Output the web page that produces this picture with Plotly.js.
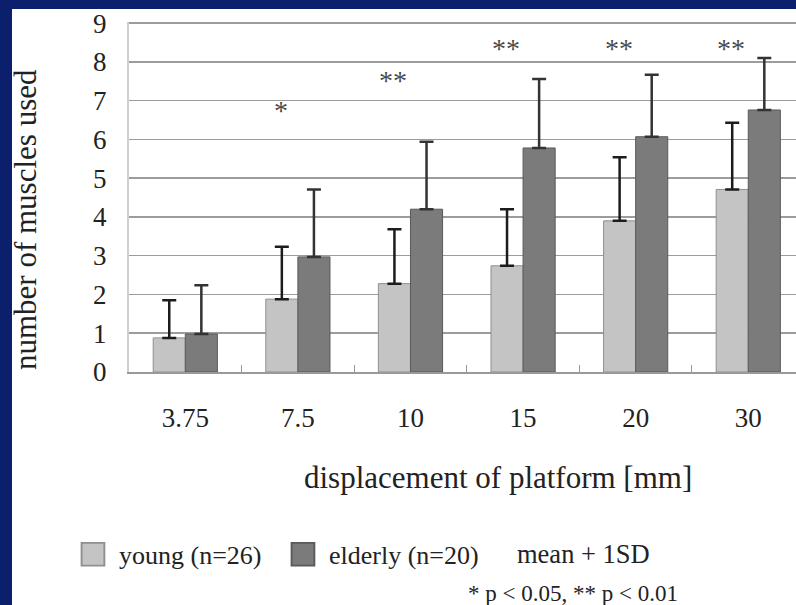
<!DOCTYPE html>
<html><head><meta charset="utf-8">
<script src="https://cdn.plot.ly/plotly-3.0.1.min.js"></script>
<style>
html,body{margin:0;padding:0;width:796px;height:605px;overflow:hidden;background:#0b1f6c;}
#panel{position:absolute;left:12px;top:9px;width:784px;height:596px;background:#fff;}
#chart{position:absolute;left:0;top:0;width:796px;height:605px;}
</style></head>
<body><div id="panel"></div><div id="chart"></div>
<script>
const categories = ['3.75', '7.5', '10', '15', '20', '30'];
const youngMean = [0.88, 1.88, 2.28, 2.74, 3.90, 4.71];
const youngSD = [0.97, 1.35, 1.40, 1.46, 1.64, 1.72];
const elderlyMean = [0.98, 2.97, 4.20, 5.78, 6.07, 6.76];
const elderlySD = [1.26, 1.74, 1.74, 1.78, 1.60, 1.34];
const sigLabels = ['', '*', '**', '**', '**', '**'];
const sigY = [null, 6.74, 7.52, 8.34, 8.34, 8.34];
const yTickVals = [0, 1, 2, 3, 4, 5, 6, 7, 8, 9];
const seriesNames = ['young (n=26)', 'elderly (n=20)'];

const SERIF = 'Liberation Serif, Times New Roman, serif';
const zeros = categories.map(() => 0);

const traces = [
  {
    type: 'bar', name: seriesNames[0], x: categories, y: youngMean,
    marker: {color: '#c4c4c4', line: {color: '#8f8f8f', width: 1}},
    error_y: {type: 'data', array: youngSD, arrayminus: zeros, symmetric: false,
              color: '#1c1c1c', thickness: 2.5, width: 7}
  },
  {
    type: 'bar', name: seriesNames[1], x: categories, y: elderlyMean,
    marker: {color: '#7b7b7b', line: {color: '#5a5a5a', width: 1}},
    error_y: {type: 'data', array: elderlySD, arrayminus: zeros, symmetric: false,
              color: '#333333', thickness: 2.5, width: 7}
  }
];

const annotations = [];
categories.forEach((c, i) => {
  if (sigLabels[i]) {
    annotations.push({x: i, y: sigY[i], xref: 'x', yref: 'y', text: sigLabels[i],
      showarrow: false, xshift: -17, font: {family: SERIF, size: 28, color: '#4a4a4a'}});
  }
});
annotations.push(
  {xref: 'paper', yref: 'paper', x: 0.553, y: -0.302, xanchor: 'center', yanchor: 'middle',
   text: 'displacement of platform [mm]', showarrow: false,
   font: {family: SERIF, size: 31, color: '#222'}},
  {xref: 'paper', yref: 'paper', x: -0.155, y: 0.436, xanchor: 'center', yanchor: 'middle',
   text: 'number of muscles used', textangle: -90, showarrow: false,
   font: {family: SERIF, size: 31, color: '#222'}},
  {xref: 'paper', yref: 'paper', x: 0.578, y: -0.521, xanchor: 'left', yanchor: 'middle',
   text: 'mean + 1SD', showarrow: false, font: {family: SERIF, size: 26.5, color: '#222'}},
  {xref: 'paper', yref: 'paper', x: 0.505, y: -0.633, xanchor: 'left', yanchor: 'middle',
   text: '* p &lt; 0.05, ** p &lt; 0.01', showarrow: false, font: {family: SERIF, size: 23, color: '#222'}}
);

const layout = {
  width: 796, height: 605,
  margin: {l: 129, r: 0, t: 22, b: 233, pad: 0},
  paper_bgcolor: 'rgba(0,0,0,0)', plot_bgcolor: '#ffffff',
  barmode: 'group', bargap: 0.43, bargroupgap: 0,
  font: {family: SERIF, color: '#222'},
  xaxis: {
    type: 'category', range: [-0.5, 5.424], tickson: 'boundaries',
    ticks: 'inside', ticklen: 7, tickcolor: '#999', tickwidth: 1,
    showline: true, linecolor: '#999', linewidth: 2,
    showgrid: false, ticklabelstandoff: 21,
    tickfont: {family: SERIF, size: 27, color: '#222'}
  },
  yaxis: {
    range: [0, 9.03], tickvals: yTickVals, ticks: '',
    showgrid: true, gridcolor: '#9c9c9c', gridwidth: 1.5,
    zeroline: false, showline: true, linecolor: '#cfcfcf', linewidth: 2,
    ticklabelstandoff: 15, ticklabeloverflow: 'allow',
    tickfont: {family: SERIF, size: 27, color: '#222'}
  },
  showlegend: true,
  legend: {
    orientation: 'h', x: -0.093, xanchor: 'left', y: -0.521, yanchor: 'middle',
    itemwidth: 42, entrywidth: 153, traceorder: 'normal',
    font: {family: SERIF, size: 26, color: '#222'}, bgcolor: 'rgba(0,0,0,0)'
  },
  annotations: annotations
};

Plotly.newPlot('chart', traces, layout, {displayModeBar: false, staticPlot: true}).then(() => {
  document.querySelectorAll('.legendpoints path').forEach(p => {
    const t = p.getAttribute('transform') || '';
    p.setAttribute('transform', t + ' scale(1.9,1.9)');
  });
});
</script>
</body></html>
